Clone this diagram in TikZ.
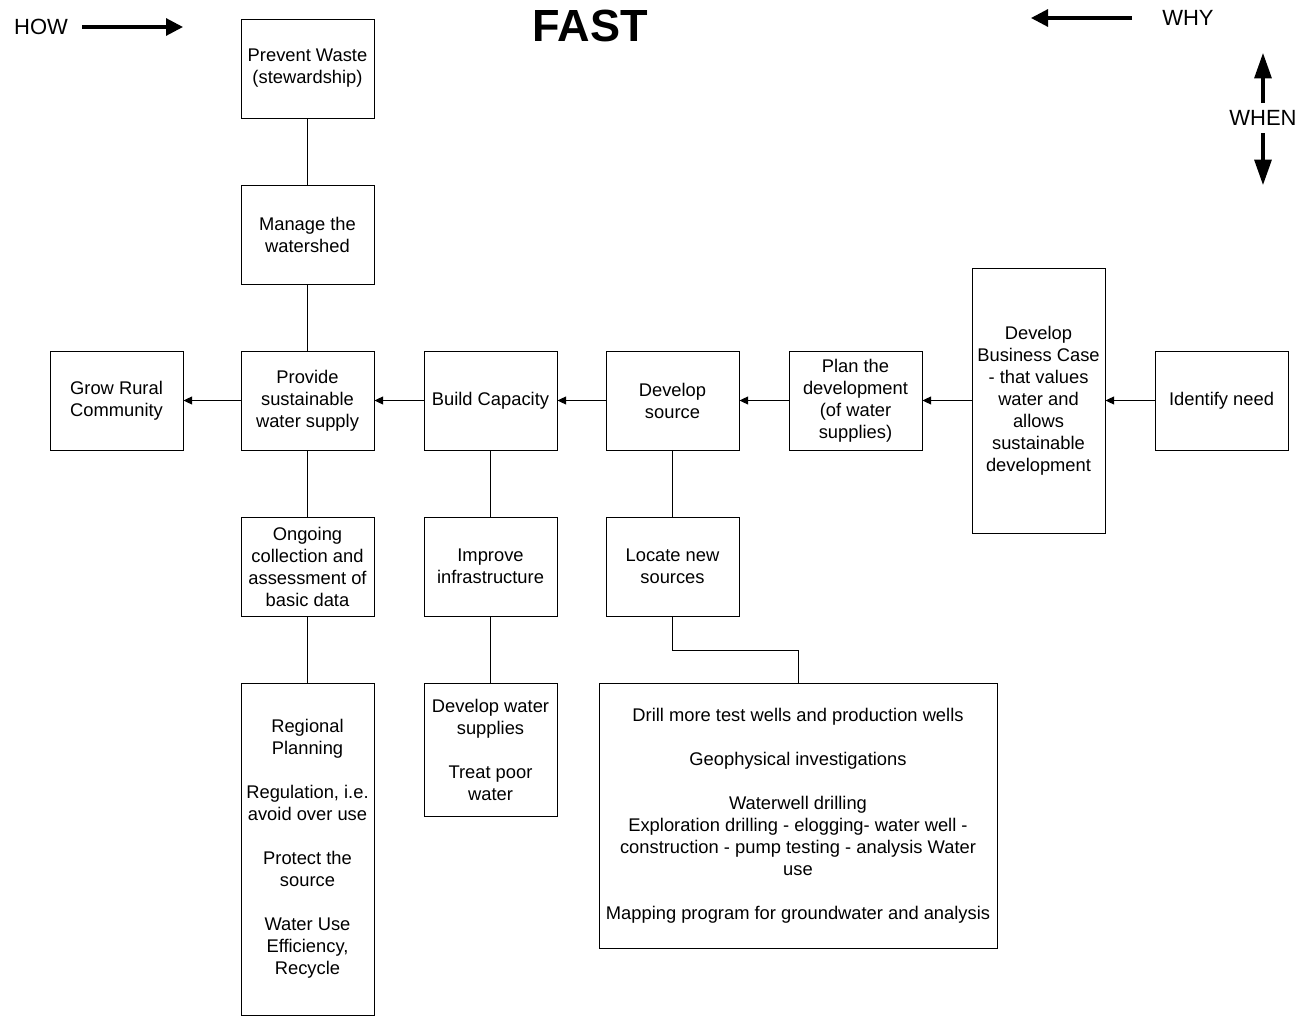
\documentclass[tikz,border=0pt]{standalone}
\usepackage{fontspec}
\setmainfont{Liberation Sans}
\usetikzlibrary{arrows.meta}
\begin{document}
\begin{tikzpicture}[x=0.75pt,y=-0.75pt,
  box/.style={draw=black,line width=0.7pt,inner sep=0pt,align=center,
    minimum width=99.75pt,minimum height=74.25pt,
    font=\fontsize{13.75pt}{16.5pt}\selectfont},
  link/.style={draw=black,line width=0.7pt},
  flow/.style={link,-{Triangle[length=6.5pt,width=6pt]}},
  bigarrow/.style={line width=2.3pt,-{Triangle[length=12.75pt,width=12.75pt]}},
  tallarrow/.style={line width=2.3pt,-{Triangle[length=19pt,width=12.75pt]}},
  lbl/.style={inner sep=0pt,font=\fontsize{16.5pt}{18pt}\selectfont}]
\useasboundingbox (0,0) rectangle (1304,1017);
\def\gap{\\[16.5pt]}
% title and direction labels
\node[inner sep=0pt,font=\fontsize{33.8pt}{36pt}\selectfont\bfseries] (fast) at (590,26) {FAST};
\node[lbl] (how) at (41,27) {HOW};
\coordinate (howa) at (82,27);
\coordinate (howb) at (183,27);
\draw[bigarrow] (howa) -- (howb);
\node[lbl] (why) at (1188,18) {WHY};
\coordinate (whya) at (1132,18);
\coordinate (whyb) at (1031,18);
\draw[bigarrow] (whya) -- (whyb);
\node[lbl] (when) at (1263,118) {WHEN};
\coordinate (wua) at (1263,103);
\coordinate (wub) at (1263,53);
\coordinate (wda) at (1263,133);
\coordinate (wdb) at (1263,185);
\draw[tallarrow] (wua) -- (wub);
\draw[tallarrow] (wda) -- (wdb);
% boxes
\node[box] (pw) at (307.5,68.5) {Prevent Waste\\(stewardship)};
\node[box] (mw) at (307.5,234.5) {Manage the\\watershed};
\node[box] (gr) at (116.5,400.5) {Grow Rural\\Community};
\node[box] (ps) at (307.5,400.5) {Provide\\sustainable\\water supply};
\node[box] (bc) at (490.5,400.5) {Build Capacity};
\node[box] (ds) at (672.5,400.5) {Develop\\source};
\node[box] (pd) at (855.5,400.5) {Plan the\\development\\(of water\\supplies)};
\node[box,minimum height=198.75pt] (bcase) at (1038.5,400.5) {Develop\\Business Case\\- that values\\water and\\allows\\sustainable\\development};
\node[box] (idn) at (1221.5,400.5) {Identify need};
\node[box] (og) at (307.5,566.5) {Ongoing\\collection and\\assessment of\\basic data};
\node[box] (ii) at (490.5,566.5) {Improve\\infrastructure};
\node[box] (ln) at (672.5,566.5) {Locate new\\sources};
\node[box,minimum height=249pt] (rp) at (307.5,849) {Regional\\Planning\gap Regulation, i.e.\\avoid over use\gap Protect the\\source\gap Water Use\\Efficiency,\\Recycle};
\node[box,minimum height=99.75pt] (dw) at (490.5,749.5) {Develop water\\supplies\gap Treat poor\\water};
\node[box,minimum width=298.5pt,minimum height=198.75pt] (big) at (798,815.5) {Drill more test wells and production wells\gap Geophysical investigations\gap Waterwell drilling\\Exploration drilling - elogging- water well -\\construction - pump testing - analysis Water\\use\gap Mapping program for groundwater and analysis};
% connectors
\draw[link] (pw) -- (mw);
\draw[link] (mw) -- (ps);
\draw[link] (ps) -- (og);
\draw[link] (og) -- (rp);
\draw[link] (bc) -- (ii);
\draw[link] (ii) -- (dw);
\draw[link] (ds) -- (ln);
\draw[link] (ln.south) -- ++(0,34) -| (big.north);
\draw[flow] (ps) -- (gr);
\draw[flow] (bc) -- (ps);
\draw[flow] (ds) -- (bc);
\draw[flow] (pd) -- (ds);
\draw[flow] (bcase) -- (pd);
\draw[flow] (idn) -- (bcase);
\end{tikzpicture}
\end{document}
